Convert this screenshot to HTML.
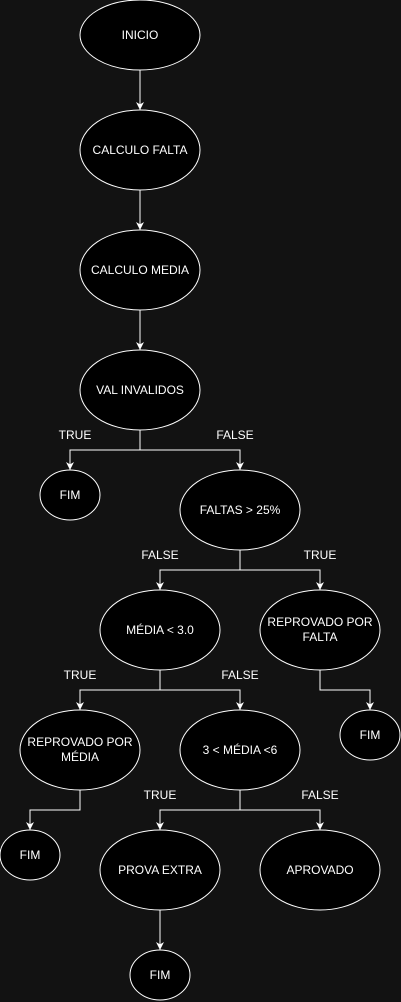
<!DOCTYPE html>
<html><head><style>html,body{margin:0;padding:0;background:#121212;}svg{display:block}</style></head><body>
<svg width="401" height="1002" xmlns="http://www.w3.org/2000/svg" font-family="Liberation Sans, sans-serif" font-size="12">
<defs><marker id="a" markerWidth="8" markerHeight="8" refX="4" refY="7" orient="auto" markerUnits="userSpaceOnUse"><path d="M0,0 L4,7 L8,0 L4,2 Z" fill="#fff" transform="rotate(-90 4 4)"/></marker>
<marker id="b" viewBox="0 0 10 10" refX="10" refY="5" markerWidth="8" markerHeight="8" orient="auto" markerUnits="userSpaceOnUse"><path d="M0,0 L10,5 L0,10 L3,5 Z" fill="#fff"/></marker></defs>
<g stroke="#fff" fill="none" stroke-width="1">
<path d="M140,70V110" marker-end="url(#b)"/>
<path d="M140,190V230" marker-end="url(#b)"/>
<path d="M140,310V350" marker-end="url(#b)"/>
<path d="M140,430V450H70V470" marker-end="url(#b)"/>
<path d="M140,450H240V470" marker-end="url(#b)"/>
<path d="M240,550V570H160V590" marker-end="url(#b)"/>
<path d="M240,570H320V590" marker-end="url(#b)"/>
<path d="M160,670V690H80V710" marker-end="url(#b)"/>
<path d="M160,690H240V710" marker-end="url(#b)"/>
<path d="M320,670V690H370V710" marker-end="url(#b)"/>
<path d="M80,790V810H30V830" marker-end="url(#b)"/>
<path d="M240,790V810H160V830" marker-end="url(#b)"/>
<path d="M240,810H320V830" marker-end="url(#b)"/>
<path d="M160,910V950" marker-end="url(#b)"/>
</g>
<g stroke="#fff" fill="#000" stroke-width="1">
<ellipse cx="140" cy="35" rx="60" ry="35"/>
<ellipse cx="140" cy="150" rx="60" ry="40"/>
<ellipse cx="140" cy="270" rx="60" ry="40"/>
<ellipse cx="140" cy="390" rx="60" ry="40"/>
<ellipse cx="70" cy="495" rx="30" ry="25"/>
<ellipse cx="240" cy="510" rx="60" ry="40"/>
<ellipse cx="160" cy="630" rx="60" ry="40"/>
<ellipse cx="320" cy="630" rx="60" ry="40"/>
<ellipse cx="80" cy="750" rx="60" ry="40"/>
<ellipse cx="240" cy="750" rx="60" ry="40"/>
<ellipse cx="370" cy="735" rx="30" ry="25"/>
<ellipse cx="30" cy="855" rx="30" ry="25"/>
<ellipse cx="160" cy="870" rx="60" ry="40"/>
<ellipse cx="320" cy="870" rx="60" ry="40"/>
<ellipse cx="160" cy="975" rx="30" ry="25"/>
</g>
<g fill="#fff" text-anchor="middle">
<text x="140" y="39">INICIO</text>
<text x="140" y="154">CALCULO FALTA</text>
<text x="140" y="274">CALCULO MEDIA</text>
<text x="140" y="394">VAL INVALIDOS</text>
<text x="70" y="499">FIM</text>
<text x="240" y="514">FALTAS &gt; 25%</text>
<text x="160" y="634">MÉDIA &lt; 3.0</text>
<text x="320" y="626">REPROVADO POR</text><text x="320" y="641">FALTA</text>
<text x="80" y="746">REPROVADO POR</text><text x="80" y="761">MÉDIA</text>
<text x="240" y="754">3 &lt; MÉDIA &lt;6</text>
<text x="370" y="739">FIM</text>
<text x="30" y="859">FIM</text>
<text x="160" y="874">PROVA EXTRA</text>
<text x="320" y="874">APROVADO</text>
<text x="160" y="979">FIM</text>
<text x="75" y="439">TRUE</text>
<text x="235" y="439">FALSE</text>
<text x="160" y="559">FALSE</text>
<text x="320" y="559">TRUE</text>
<text x="80" y="679">TRUE</text>
<text x="240" y="679">FALSE</text>
<text x="160" y="799">TRUE</text>
<text x="320" y="799">FALSE</text>
</g>
</svg>
</body></html>
